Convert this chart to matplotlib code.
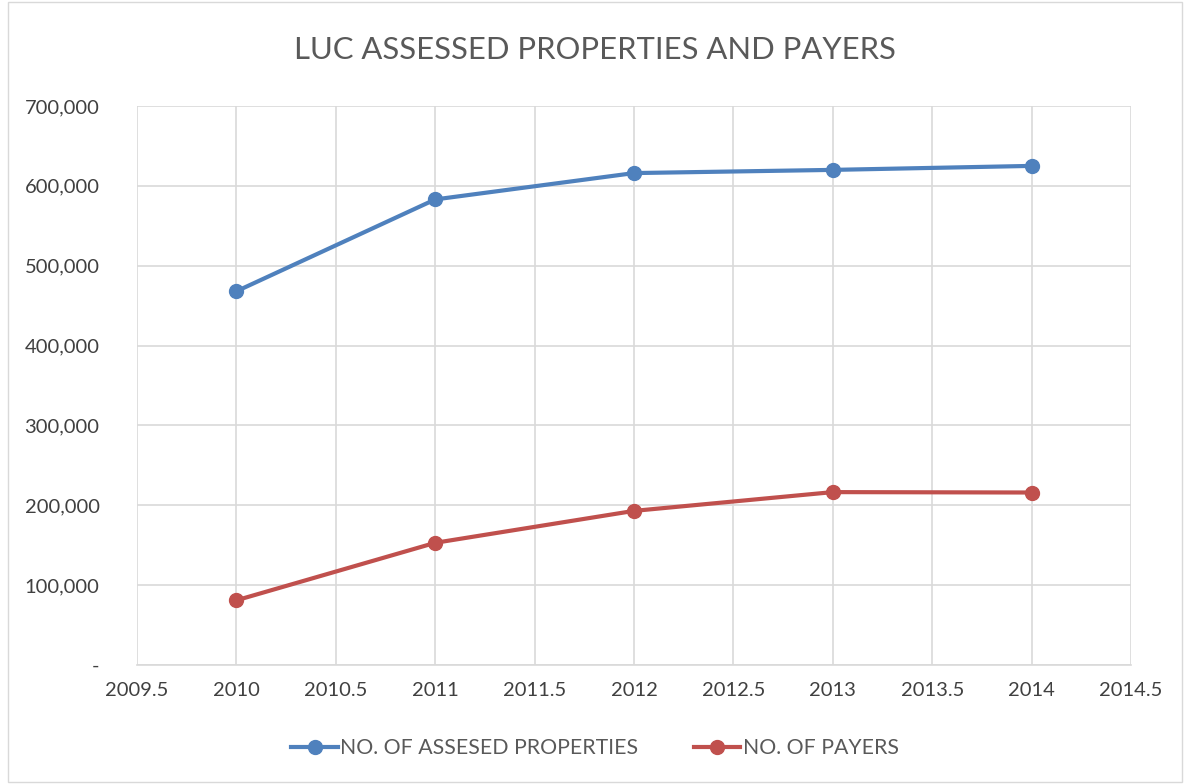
import matplotlib.pyplot as plt
from matplotlib.patches import Rectangle

years = [2010, 2011, 2012, 2013, 2014]
assessed = [468000, 583000, 616000, 620000, 625000]
payers = [81000, 153000, 193000, 216500, 216000]

xticks = [2009.5, 2010, 2010.5, 2011, 2011.5, 2012, 2012.5, 2013, 2013.5, 2014, 2014.5]
yticks = [0, 100000, 200000, 300000, 400000, 500000, 600000, 700000]

plt.rcParams['font.family'] = ['Lato', 'DejaVu Sans']

fig = plt.figure(figsize=(11.9, 7.84), dpi=100)
ax = fig.add_axes([137/1190, 1 - 665/784, (1131 - 137)/1190, (665 - 106)/784])

# outer chart border
fig.patches.append(Rectangle((8/1190, 0.002), 1 - 16/1190, 0.996, transform=fig.transFigure,
                             fill=False, edgecolor='#d9d9d9', linewidth=1))

ax.plot(years, assessed, color='#4f81bd', linewidth=3, marker='o', markersize=10,
        label='NO. OF ASSESED PROPERTIES')
ax.plot(years, payers, color='#c0504d', linewidth=3, marker='o', markersize=10,
        label='NO. OF PAYERS')

ax.set_xlim(2009.5, 2014.5)
ax.set_ylim(0, 700000)
ax.set_xticks(xticks)
ax.set_xticklabels([str(t) for t in xticks])
ax.set_yticks(yticks)
ax.set_yticklabels(['-' if v == 0 else f'{v:,}' for v in yticks])

ax.grid(True, color='#d9d9d9', linewidth=1.2)
ax.set_axisbelow(True)
for s in ['top', 'right']:
    ax.spines[s].set_visible(False)
ax.spines['left'].set_visible(False)
ax.spines['bottom'].set_color('#d9d9d9')
ax.spines['bottom'].set_linewidth(1.2)
ax.tick_params(length=0, labelsize=14.5, colors='#404040', pad=12)
ax.tick_params(axis='y', pad=27)

fig.text(0.5, 1 - 50/784, 'LUC ASSESSED PROPERTIES AND PAYERS', ha='center', va='center',
         fontsize=22.3, color='#595959')

fig.legend(loc='center', bbox_to_anchor=(0.5, 1 - 748/784), ncol=2, frameon=False,
           fontsize=15.3, labelcolor='#595959', handlelength=2.2, handletextpad=0.1,
           columnspacing=2.6)

fig.savefig('out.png', dpi=100)
